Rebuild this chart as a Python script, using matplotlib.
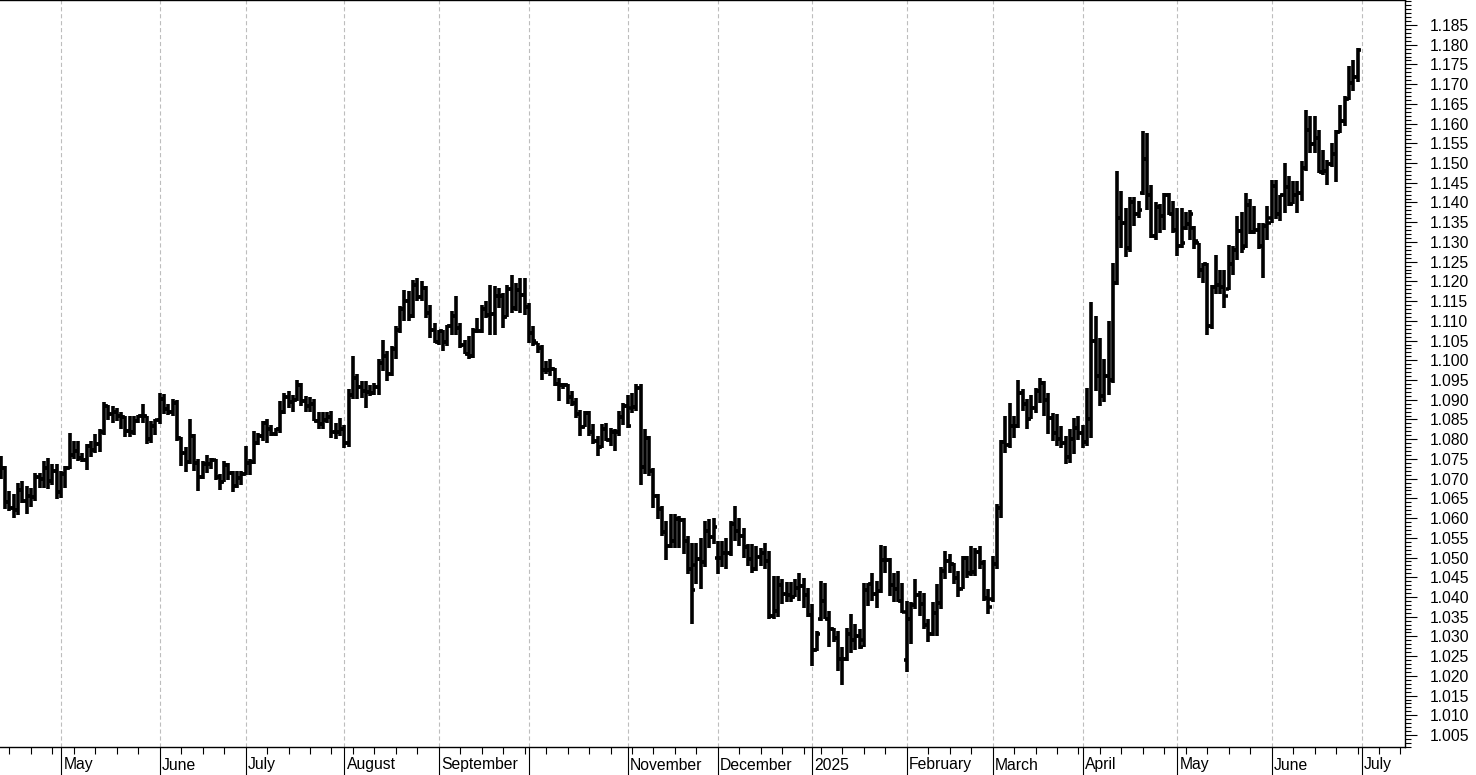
import numpy as np
import pandas as pd
import matplotlib
matplotlib.use("Agg")
import matplotlib.pyplot as plt
import matplotlib.transforms as mtransforms
from matplotlib.collections import LineCollection
from matplotlib.ticker import FixedLocator, MultipleLocator

# EUR/USD daily bars: (open, high, low, close), one list per month
apr24 = [(1.0745, 1.0757, 1.0698, 1.0728), (1.0728, 1.0733, 1.0622, 1.0642), (1.0642, 1.0669, 1.0618, 1.0625),
         (1.0625, 1.0660, 1.0601, 1.0620), (1.0620, 1.0690, 1.0609, 1.0672), (1.0672, 1.0694, 1.0639, 1.0644),
         (1.0644, 1.0681, 1.0610, 1.0656), (1.0656, 1.0677, 1.0627, 1.0654), (1.0654, 1.0715, 1.0643, 1.0703),
         (1.0703, 1.0715, 1.0677, 1.0698), (1.0698, 1.0744, 1.0677, 1.0728), (1.0728, 1.0753, 1.0673, 1.0694),
         (1.0694, 1.0736, 1.0685, 1.0719), (1.0719, 1.0736, 1.0648, 1.0665)]
may24 = [(1.0665, 1.0720, 1.0650, 1.0713), (1.0713, 1.0733, 1.0676, 1.0727), (1.0727, 1.0816, 1.0725, 1.0761),
         (1.0761, 1.0795, 1.0749, 1.0771), (1.0771, 1.0795, 1.0745, 1.0753), (1.0753, 1.0766, 1.0741, 1.0748),
         (1.0748, 1.0787, 1.0723, 1.0783), (1.0783, 1.0795, 1.0755, 1.0772), (1.0772, 1.0812, 1.0765, 1.0789),
         (1.0789, 1.0825, 1.0767, 1.0819), (1.0819, 1.0895, 1.0810, 1.0884), (1.0884, 1.0887, 1.0848, 1.0865),
         (1.0865, 1.0885, 1.0840, 1.0869), (1.0869, 1.0880, 1.0845, 1.0858), (1.0858, 1.0868, 1.0825, 1.0855),
         (1.0855, 1.0860, 1.0805, 1.0820), (1.0820, 1.0860, 1.0805, 1.0818), (1.0818, 1.0858, 1.0810, 1.0847),
         (1.0847, 1.0862, 1.0840, 1.0858), (1.0858, 1.0889, 1.0840, 1.0858), (1.0858, 1.0860, 1.0788, 1.0801),
         (1.0801, 1.0845, 1.0790, 1.0833), (1.0833, 1.0852, 1.0810, 1.0848)]
jun24 = [(1.0848, 1.0916, 1.0838, 1.0903), (1.0903, 1.0915, 1.0865, 1.0877), (1.0877, 1.0889, 1.0862, 1.0869),
         (1.0869, 1.0902, 1.0860, 1.0891), (1.0891, 1.0900, 1.0795, 1.0802), (1.0802, 1.0805, 1.0733, 1.0765),
         (1.0765, 1.0780, 1.0718, 1.0741), (1.0741, 1.0852, 1.0736, 1.0809), (1.0809, 1.0812, 1.0720, 1.0739),
         (1.0739, 1.0749, 1.0668, 1.0704), (1.0704, 1.0745, 1.0700, 1.0737), (1.0737, 1.0761, 1.0715, 1.0738),
         (1.0738, 1.0752, 1.0725, 1.0746), (1.0746, 1.0750, 1.0697, 1.0703), (1.0703, 1.0713, 1.0671, 1.0692),
         (1.0692, 1.0744, 1.0692, 1.0734), (1.0734, 1.0740, 1.0697, 1.0715), (1.0715, 1.0720, 1.0666, 1.0681),
         (1.0681, 1.0720, 1.0676, 1.0701), (1.0701, 1.0720, 1.0685, 1.0713)]
jul24 = [(1.0713, 1.0783, 1.0710, 1.0740), (1.0740, 1.0750, 1.0710, 1.0743), (1.0743, 1.0820, 1.0737, 1.0790),
         (1.0790, 1.0816, 1.0785, 1.0809), (1.0809, 1.0846, 1.0795, 1.0840), (1.0840, 1.0850, 1.0790, 1.0825),
         (1.0825, 1.0837, 1.0808, 1.0813), (1.0813, 1.0829, 1.0808, 1.0827), (1.0827, 1.0897, 1.0815, 1.0868),
         (1.0868, 1.0918, 1.0865, 1.0907), (1.0907, 1.0922, 1.0880, 1.0893), (1.0893, 1.0913, 1.0870, 1.0900),
         (1.0900, 1.0951, 1.0896, 1.0938), (1.0938, 1.0943, 1.0885, 1.0896), (1.0896, 1.0910, 1.0870, 1.0883),
         (1.0883, 1.0906, 1.0870, 1.0890), (1.0890, 1.0901, 1.0846, 1.0846), (1.0846, 1.0870, 1.0825, 1.0838),
         (1.0838, 1.0870, 1.0825, 1.0849), (1.0849, 1.0870, 1.0840, 1.0856), (1.0856, 1.0871, 1.0804, 1.0819),
         (1.0819, 1.0841, 1.0800, 1.0817), (1.0817, 1.0854, 1.0808, 1.0825)]
aug24 = [(1.0825, 1.0837, 1.0778, 1.0790), (1.0790, 1.0926, 1.0780, 1.0911), (1.0911, 1.1010, 1.0901, 1.0955),
         (1.0955, 1.0964, 1.0901, 1.0932), (1.0932, 1.0947, 1.0905, 1.0923), (1.0923, 1.0947, 1.0879, 1.0919),
         (1.0919, 1.0938, 1.0909, 1.0917), (1.0917, 1.0943, 1.0913, 1.0933), (1.0933, 1.1002, 1.0913, 1.0993),
         (1.0993, 1.1052, 1.0972, 1.1012), (1.1012, 1.1023, 1.0947, 1.0966), (1.0966, 1.1035, 1.0960, 1.1029),
         (1.1029, 1.1086, 1.1002, 1.1077), (1.1077, 1.1137, 1.1070, 1.1129), (1.1129, 1.1179, 1.1099, 1.1150),
         (1.1150, 1.1175, 1.1099, 1.1112), (1.1112, 1.1204, 1.1107, 1.1192), (1.1192, 1.1209, 1.1150, 1.1160),
         (1.1160, 1.1202, 1.1150, 1.1184), (1.1184, 1.1189, 1.1107, 1.1120), (1.1120, 1.1141, 1.1057, 1.1078),
         (1.1078, 1.1095, 1.1044, 1.1047)]
sep24 = [(1.1047, 1.1078, 1.1040, 1.1073), (1.1073, 1.1078, 1.1023, 1.1046), (1.1046, 1.1090, 1.1035, 1.1087),
         (1.1087, 1.1124, 1.1065, 1.1111), (1.1111, 1.1162, 1.1065, 1.1082), (1.1082, 1.1095, 1.1031, 1.1040),
         (1.1040, 1.1052, 1.1015, 1.1017), (1.1017, 1.1061, 1.1002, 1.1010), (1.1010, 1.1082, 1.1005, 1.1075),
         (1.1075, 1.1107, 1.1069, 1.1075), (1.1075, 1.1141, 1.1070, 1.1131), (1.1131, 1.1150, 1.1107, 1.1115),
         (1.1115, 1.1192, 1.1065, 1.1117), (1.1117, 1.1188, 1.1065, 1.1163), (1.1163, 1.1183, 1.1133, 1.1163),
         (1.1163, 1.1171, 1.1082, 1.1110), (1.1110, 1.1192, 1.1110, 1.1180), (1.1180, 1.1217, 1.1120, 1.1133),
         (1.1133, 1.1196, 1.1124, 1.1178), (1.1178, 1.1209, 1.1120, 1.1165), (1.1165, 1.1209, 1.1116, 1.1135)]
oct24 = [(1.1135, 1.1145, 1.1044, 1.1068), (1.1068, 1.1086, 1.1036, 1.1049), (1.1045, 1.1045, 1.1019, 1.1031),
         (1.1031, 1.1040, 1.0951, 1.0975), (1.0975, 1.0998, 1.0964, 1.0975), (1.0975, 1.1002, 1.0960, 1.0978),
         (1.0978, 1.0981, 1.0934, 1.0940), (1.0940, 1.0955, 1.0896, 1.0937), (1.0937, 1.0943, 1.0926, 1.0937),
         (1.0937, 1.0939, 1.0888, 1.0907), (1.0907, 1.0922, 1.0884, 1.0891), (1.0891, 1.0905, 1.0854, 1.0863),
         (1.0863, 1.0875, 1.0808, 1.0832), (1.0832, 1.0871, 1.0830, 1.0866), (1.0866, 1.0871, 1.0808, 1.0817),
         (1.0817, 1.0838, 1.0787, 1.0795), (1.0795, 1.0808, 1.0757, 1.0780), (1.0780, 1.0838, 1.0778, 1.0826),
         (1.0826, 1.0842, 1.0795, 1.0797), (1.0797, 1.0829, 1.0783, 1.0817), (1.0817, 1.0825, 1.0770, 1.0817),
         (1.0817, 1.0871, 1.0808, 1.0856), (1.0856, 1.0892, 1.0837, 1.0883)]
nov24 = [(1.0883, 1.0913, 1.0829, 1.0833), (1.0880, 1.0918, 1.0867, 1.0882), (1.0882, 1.0939, 1.0871, 1.0930),
         (1.0930, 1.0939, 1.0685, 1.0729), (1.0729, 1.0825, 1.0711, 1.0802), (1.0802, 1.0808, 1.0706, 1.0719),
         (1.0719, 1.0728, 1.0626, 1.0655), (1.0655, 1.0660, 1.0597, 1.0623), (1.0623, 1.0630, 1.0554, 1.0564),
         (1.0564, 1.0592, 1.0495, 1.0529), (1.0529, 1.0610, 1.0525, 1.0541), (1.0541, 1.0610, 1.0525, 1.0598),
         (1.0598, 1.0606, 1.0525, 1.0594), (1.0594, 1.0601, 1.0508, 1.0542), (1.0542, 1.0555, 1.0457, 1.0472),
         (1.0472, 1.0537, 1.0332, 1.0418), (1.0480, 1.0538, 1.0433, 1.0496), (1.0496, 1.0550, 1.0420, 1.0488),
         (1.0488, 1.0593, 1.0475, 1.0566), (1.0566, 1.0597, 1.0525, 1.0553), (1.0553, 1.0601, 1.0534, 1.0577)]
dec24 = [(1.0500, 1.0542, 1.0458, 1.0498), (1.0498, 1.0542, 1.0475, 1.0512), (1.0512, 1.0550, 1.0470, 1.0511),
         (1.0511, 1.0593, 1.0504, 1.0586), (1.0586, 1.0631, 1.0542, 1.0568), (1.0568, 1.0601, 1.0529, 1.0555),
         (1.0555, 1.0576, 1.0500, 1.0527), (1.0527, 1.0534, 1.0479, 1.0497), (1.0497, 1.0534, 1.0462, 1.0470),
         (1.0470, 1.0529, 1.0465, 1.0502), (1.0502, 1.0525, 1.0479, 1.0512), (1.0512, 1.0538, 1.0470, 1.0490),
         (1.0490, 1.0517, 1.0344, 1.0352), (1.0352, 1.0453, 1.0344, 1.0364), (1.0364, 1.0453, 1.0348, 1.0430),
         (1.0430, 1.0445, 1.0382, 1.0408), (1.0408, 1.0437, 1.0386, 1.0406), (1.0406, 1.0437, 1.0386, 1.0400),
         (1.0400, 1.0445, 1.0399, 1.0423), (1.0423, 1.0462, 1.0390, 1.0428), (1.0428, 1.0449, 1.0373, 1.0405),
         (1.0405, 1.0424, 1.0348, 1.0354)]
jan25 = [(1.0354, 1.0382, 1.0226, 1.0265), (1.0265, 1.0314, 1.0263, 1.0307), (1.0345, 1.0441, 1.0339, 1.0390),
         (1.0390, 1.0436, 1.0344, 1.0345), (1.0345, 1.0365, 1.0272, 1.0320), (1.0320, 1.0322, 1.0285, 1.0297),
         (1.0297, 1.0314, 1.0213, 1.0244), (1.0244, 1.0272, 1.0178, 1.0244), (1.0244, 1.0322, 1.0238, 1.0307),
         (1.0307, 1.0356, 1.0259, 1.0290), (1.0290, 1.0331, 1.0265, 1.0301), (1.0301, 1.0318, 1.0268, 1.0272),
         (1.0290, 1.0436, 1.0272, 1.0418), (1.0418, 1.0436, 1.0377, 1.0432), (1.0432, 1.0462, 1.0390, 1.0408),
         (1.0408, 1.0441, 1.0373, 1.0414), (1.0414, 1.0533, 1.0410, 1.0495), (1.0495, 1.0529, 1.0462, 1.0494),
         (1.0494, 1.0500, 1.0403, 1.0430), (1.0430, 1.0462, 1.0386, 1.0421), (1.0421, 1.0466, 1.0386, 1.0390),
         (1.0390, 1.0436, 1.0360, 1.0362)]
feb25 = [(1.0240, 1.0390, 1.0209, 1.0345), (1.0345, 1.0386, 1.0280, 1.0379), (1.0379, 1.0445, 1.0369, 1.0404),
         (1.0404, 1.0415, 1.0352, 1.0382), (1.0382, 1.0411, 1.0318, 1.0330), (1.0330, 1.0344, 1.0285, 1.0307),
         (1.0307, 1.0386, 1.0300, 1.0360), (1.0360, 1.0432, 1.0300, 1.0385), (1.0385, 1.0475, 1.0369, 1.0465),
         (1.0465, 1.0517, 1.0445, 1.0492), (1.0492, 1.0509, 1.0462, 1.0484), (1.0484, 1.0487, 1.0432, 1.0447),
         (1.0447, 1.0466, 1.0399, 1.0420), (1.0420, 1.0504, 1.0420, 1.0500), (1.0500, 1.0504, 1.0449, 1.0460),
         (1.0460, 1.0529, 1.0453, 1.0463), (1.0463, 1.0525, 1.0453, 1.0514), (1.0514, 1.0529, 1.0470, 1.0487),
         (1.0487, 1.0495, 1.0390, 1.0398), (1.0398, 1.0420, 1.0356, 1.0375)]
mar25 = [(1.0395, 1.0504, 1.0386, 1.0484), (1.0484, 1.0635, 1.0470, 1.0625), (1.0625, 1.0799, 1.0601, 1.0792),
         (1.0792, 1.0858, 1.0766, 1.0786), (1.0786, 1.0892, 1.0778, 1.0834), (1.0834, 1.0858, 1.0803, 1.0833),
         (1.0833, 1.0951, 1.0829, 1.0918), (1.0918, 1.0926, 1.0871, 1.0888), (1.0888, 1.0901, 1.0825, 1.0851),
         (1.0851, 1.0913, 1.0850, 1.0879), (1.0879, 1.0930, 1.0866, 1.0922), (1.0922, 1.0955, 1.0892, 1.0943),
         (1.0943, 1.0947, 1.0858, 1.0900), (1.0900, 1.0917, 1.0812, 1.0853), (1.0853, 1.0867, 1.0795, 1.0815),
         (1.0815, 1.0863, 1.0783, 1.0801), (1.0801, 1.0833, 1.0778, 1.0790), (1.0790, 1.0808, 1.0736, 1.0754),
         (1.0754, 1.0825, 1.0740, 1.0800), (1.0800, 1.0854, 1.0762, 1.0828), (1.0828, 1.0858, 1.0799, 1.0815)]
apr25 = [(1.0815, 1.0837, 1.0778, 1.0792), (1.0792, 1.0930, 1.0783, 1.0850), (1.0850, 1.1149, 1.0804, 1.1050),
         (1.1050, 1.1111, 1.0922, 1.0961), (1.0961, 1.1057, 1.0884, 1.0910), (1.0910, 1.1002, 1.0893, 1.0960),
         (1.0960, 1.1099, 1.0913, 1.0951), (1.0951, 1.1247, 1.0943, 1.1195), (1.1195, 1.1479, 1.1192, 1.1361),
         (1.1361, 1.1428, 1.1285, 1.1348), (1.1348, 1.1386, 1.1263, 1.1285), (1.1285, 1.1415, 1.1275, 1.1400),
         (1.1400, 1.1415, 1.1340, 1.1370), (1.1370, 1.1403, 1.1361, 1.1380), (1.1425, 1.1580, 1.1420, 1.1510),
         (1.1510, 1.1576, 1.1382, 1.1420), (1.1420, 1.1445, 1.1310, 1.1314), (1.1314, 1.1400, 1.1306, 1.1388),
         (1.1388, 1.1395, 1.1323, 1.1366), (1.1366, 1.1424, 1.1331, 1.1420), (1.1420, 1.1424, 1.1369, 1.1370),
         (1.1370, 1.1403, 1.1323, 1.1330)]
may25 = [(1.1330, 1.1386, 1.1264, 1.1290), (1.1290, 1.1386, 1.1285, 1.1297), (1.1335, 1.1377, 1.1331, 1.1345),
         (1.1345, 1.1381, 1.1306, 1.1370), (1.1335, 1.1340, 1.1281, 1.1303), (1.1297, 1.1297, 1.1209, 1.1230),
         (1.1230, 1.1247, 1.1196, 1.1245), (1.1245, 1.1247, 1.1065, 1.1088), (1.1088, 1.1192, 1.1080, 1.1187),
         (1.1187, 1.1268, 1.1167, 1.1190), (1.1190, 1.1230, 1.1167, 1.1187), (1.1187, 1.1230, 1.1133, 1.1163),
         (1.1180, 1.1293, 1.1179, 1.1243), (1.1243, 1.1289, 1.1217, 1.1280), (1.1280, 1.1365, 1.1255, 1.1328),
         (1.1328, 1.1377, 1.1273, 1.1285), (1.1290, 1.1424, 1.1285, 1.1393), (1.1393, 1.1410, 1.1320, 1.1324),
         (1.1324, 1.1390, 1.1320, 1.1330), (1.1330, 1.1348, 1.1281, 1.1290), (1.1290, 1.1348, 1.1209, 1.1340),
         (1.1340, 1.1391, 1.1306, 1.1349)]
jun25 = [(1.1360, 1.1458, 1.1348, 1.1442), (1.1442, 1.1458, 1.1357, 1.1371), (1.1371, 1.1420, 1.1352, 1.1418),
         (1.1418, 1.1500, 1.1373, 1.1440), (1.1440, 1.1466, 1.1390, 1.1395), (1.1395, 1.1454, 1.1395, 1.1419),
         (1.1419, 1.1454, 1.1373, 1.1425), (1.1425, 1.1504, 1.1403, 1.1487), (1.1487, 1.1635, 1.1480, 1.1584),
         (1.1584, 1.1618, 1.1525, 1.1548), (1.1548, 1.1618, 1.1525, 1.1564), (1.1564, 1.1584, 1.1474, 1.1477),
         (1.1477, 1.1534, 1.1470, 1.1481), (1.1481, 1.1508, 1.1445, 1.1497), (1.1497, 1.1550, 1.1491, 1.1523),
         (1.1523, 1.1584, 1.1453, 1.1578), (1.1578, 1.1647, 1.1575, 1.1607), (1.1607, 1.1669, 1.1593, 1.1662),
         (1.1662, 1.1745, 1.1660, 1.1702), (1.1702, 1.1761, 1.1682, 1.1718), (1.1718, 1.1791, 1.1706, 1.1787)]

month_labels = ["April", "May", "June", "July", "August", "September", "", "November",
                "December", "2025", "February", "March", "April", "May", "June", "July"]
price_ticks = np.round(np.arange(1.005, 1.1851, 0.005), 3)

bars = np.array([row for m in [apr24, may24, jun24, jul24, aug24, sep24, oct24, nov24, dec24,
                               jan25, feb25, mar25, apr25, may25, jun25] for row in m])
o, h, l, c = bars.T
h = np.maximum.reduce([h, o, c])
l = np.minimum.reduce([l, o, c])

# trading-day axis (weekdays, New Year's Day skipped), extended for the axis ticks
days = pd.bdate_range("2024-04-01", "2025-07-31")
days = days[days != pd.Timestamp("2025-01-01")]
start = days.get_loc(pd.Timestamp("2024-04-11"))
pos = np.arange(len(days)) - start
x = np.arange(len(bars))

month_start = pos[np.r_[True, days.month[1:] != days.month[:-1]]]
mondays = pos[days.dayofweek == 0]

plt.rcParams["font.family"] = ["Liberation Sans", "DejaVu Sans"]
plt.rcParams["lines.scale_dashes"] = False

fig = plt.figure(figsize=(14.76, 7.75), dpi=100)
W, H = 1476, 775
ax = fig.add_axes([0, 28 / H, 1405 / W, 747 / H])

tw = 0.75
segs = []
for xi, oi, hi, li, ci in zip(x, o, h, l, c):
    segs.append([(xi, li), (xi, hi)])
    segs.append([(xi - tw, oi), (xi, oi)])
    segs.append([(xi, ci), (xi + tw, ci)])
ax.add_collection(LineCollection(segs, colors="black", linewidths=2.6, capstyle="butt", zorder=3))

ax.set_xlim(-0.21, 327.06)
ax.set_ylim(1.00197, 1.19133)

# month gridlines
for m in month_start:
    ax.axvline(m, color="#bdbdbd", lw=0.8, ls=(0, (3, 2)), zorder=1)

ax.xaxis.set_major_locator(FixedLocator(month_start))
ax.xaxis.set_minor_locator(FixedLocator(mondays))
ax.tick_params(axis="x", which="major", length=20, width=0.8, color="black", labelbottom=False)
ax.tick_params(axis="x", which="minor", length=5, width=0.8, color="black")

ax.yaxis.tick_right()
ax.yaxis.set_major_locator(FixedLocator(price_ticks))
ax.yaxis.set_minor_locator(MultipleLocator(0.001))
ax.yaxis.set_major_formatter(matplotlib.ticker.FormatStrFormatter("%.3f"))
ax.tick_params(axis="y", which="major", length=8.5, width=0.8, pad=9.4, labelsize=11.3, colors="black")
ax.tick_params(axis="y", which="minor", length=4.3, width=0.8)

ax.spines["left"].set_visible(False)
for s in ["right", "bottom", "top"]:
    ax.spines[s].set_linewidth(1.0)

trans = mtransforms.blended_transform_factory(ax.transData, ax.transAxes)
for m, name in zip(month_start, month_labels):
    ax.annotate(name, xy=(m, 0), xycoords=trans, xytext=(2.3, -18), textcoords="offset pixels",
                ha="left", va="center", fontsize=11.3, annotation_clip=False)

fig.savefig("out.png", dpi=100, facecolor="white")
